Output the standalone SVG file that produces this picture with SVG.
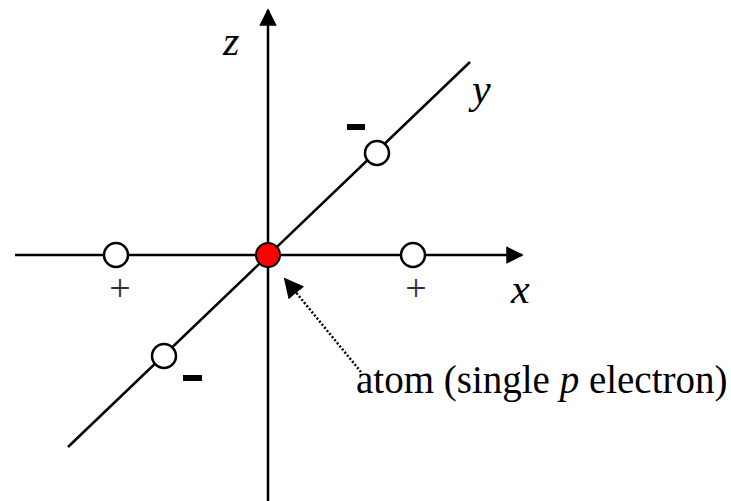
<svg xmlns="http://www.w3.org/2000/svg" width="731" height="501" viewBox="0 0 731 501">
<defs>
<style>
.ax{stroke:#000;stroke-width:2.5;fill:none}
.oc{fill:#fff;stroke:#000;stroke-width:2.5}
.lbl{font-family:"Liberation Serif",serif;font-style:italic;font-size:42px;fill:#000}
.pl{font-family:"Liberation Serif",serif;font-size:38px;fill:#3a2a3a}
.txt{font-family:"Liberation Serif",serif;font-size:39px;fill:#000}
.dash{fill:#000}
</style>
<marker id="ah" viewBox="0 0 10 10" refX="9" refY="5" markerWidth="7" markerHeight="7" markerUnits="strokeWidth" orient="auto"><path d="M0,0 L10,5 L0,10 z" fill="#000"/></marker>
<marker id="ah2" viewBox="0 0 10 10" refX="9" refY="5" markerWidth="8" markerHeight="8" markerUnits="strokeWidth" orient="auto"><path d="M0,0 L10,5 L0,10 z" fill="#000"/></marker>
</defs>
<g id="connectors">
<line class="ax" x1="268" y1="501" x2="268" y2="10" marker-end="url(#ah)"/>
<line class="ax" x1="15" y1="255" x2="522" y2="255" marker-end="url(#ah)"/>
<line class="ax" x1="68" y1="447" x2="470" y2="62"/>
<line x1="361" y1="372" x2="285" y2="279" stroke="#000" stroke-width="2.5" stroke-dasharray="2,2" marker-end="url(#ah2)"/>
</g>
<g id="atom"><circle cx="268" cy="255" r="12" fill="#f00" stroke="#000" stroke-width="2"/></g>
<g id="xneg"><circle class="oc" cx="116" cy="255" r="12"/><text class="pl" x="120" y="301" text-anchor="middle">+</text></g>
<g id="xpos"><circle class="oc" cx="413" cy="255" r="12"/><text class="pl" x="416" y="301" text-anchor="middle">+</text></g>
<g id="ypos"><circle class="oc" cx="377" cy="153" r="12"/><rect class="dash" x="347" y="124" width="18" height="6"/></g>
<g id="yneg"><circle class="oc" cx="164" cy="356" r="12"/><rect class="dash" x="183" y="375" width="19" height="6"/></g>
<g id="labels">
<text class="lbl" x="223" y="55">z</text>
<text class="lbl" x="472" y="103">y</text>
<text class="lbl" x="511" y="303">x</text>
<text class="txt" x="356" y="393">atom (single <tspan font-style="italic">p</tspan> electron)</text>
</g>
</svg>
